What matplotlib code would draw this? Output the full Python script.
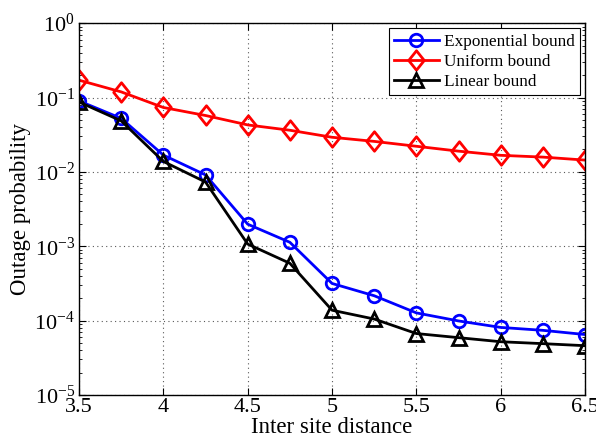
import numpy as np
import matplotlib
matplotlib.use('Agg')
import matplotlib.pyplot as plt
from matplotlib.path import Path
from matplotlib.ticker import LogLocator, FixedLocator

plt.rcParams['font.family'] = ['Liberation Serif', 'DejaVu Serif']
plt.rcParams['mathtext.fontset'] = 'custom'
plt.rcParams['mathtext.rm'] = 'Liberation Serif'

# inter site distance
x = [3.5, 3.75, 4.0, 4.25, 4.5, 4.75, 5.0, 5.25, 5.5, 5.75, 6.0, 6.25, 6.5]

exp_bound = [0.090, 0.0524, 0.0168, 0.0091, 0.00198, 0.00113, 3.16e-4,
             2.16e-4, 1.27e-4, 9.9e-5, 8.1e-5, 7.4e-5, 6.5e-5]
uni_bound = [0.171, 0.119, 0.0734, 0.0573, 0.0428, 0.0363, 0.0292,
             0.0257, 0.0221, 0.019, 0.0167, 0.0158, 0.0144]
lin_bound = [0.087, 0.0485, 0.0138, 0.0073, 0.00107, 5.9e-4, 1.38e-4,
             1.05e-4, 6.7e-5, 5.9e-5, 5.2e-5, 4.9e-5, 4.6e-5]

# matlab-like diamond (a bit narrower than tall)
diamond = Path([(0, 1), (0.8, 0), (0, -1), (-0.8, 0), (0, 1)],
               [Path.MOVETO, Path.LINETO, Path.LINETO, Path.LINETO, Path.CLOSEPOLY])

fig = plt.figure(figsize=(5.96, 4.45), dpi=100)
ax = fig.add_axes([0.1326, 0.1124, 0.849, 0.8356])

ax.semilogy(x, exp_bound, '-', marker='o', color='blue', lw=2, ms=9, mew=2,
            mfc='none', label='Exponential bound')
ax.semilogy(x, uni_bound, '-', marker=diamond, color='red', lw=2, ms=14, mew=2,
            mfc='none', label='Uniform bound')
ax.semilogy(x, lin_bound, '-', marker='^', color='black', lw=2, ms=10, mew=2,
            mfc='none', label='Linear bound')

ax.set_xlim(3.5, 6.5)
ax.set_ylim(1e-5, 1e0)
ax.xaxis.set_major_locator(FixedLocator([3.5, 4, 4.5, 5, 5.5, 6, 6.5]))
ax.set_xticklabels(['3.5', '4', '4.5', '5', '5.5', '6', '6.5'])
ax.yaxis.set_major_locator(LogLocator(base=10, numticks=10))
ax.yaxis.set_minor_locator(LogLocator(base=10, subs=np.arange(2, 10), numticks=10))

ax.grid(True, which='major', linestyle=(0, (1, 3)), color='0.35', lw=0.8)
ax.tick_params(which='both', direction='in', top=True, right=True, labelsize=16)
ax.tick_params(which='major', length=5)
ax.tick_params(which='minor', length=2.5)
ax.tick_params(axis='x', pad=2)
ax.tick_params(axis='y', pad=3)
for s in ax.spines.values():
    s.set_linewidth(1)

ax.set_xlabel('Inter site distance', fontsize=16.5, labelpad=0)
ax.set_ylabel('Outage probability', fontsize=16.5, labelpad=2)

leg = ax.legend(loc='upper right', fontsize=12.4, fancybox=False, edgecolor='black',
                framealpha=1, handlelength=2.6, borderpad=0.3, labelspacing=0.25,
                handletextpad=0.3, borderaxespad=0.3)
leg.get_frame().set_linewidth(0.8)

fig.savefig('out.png', dpi=100)
